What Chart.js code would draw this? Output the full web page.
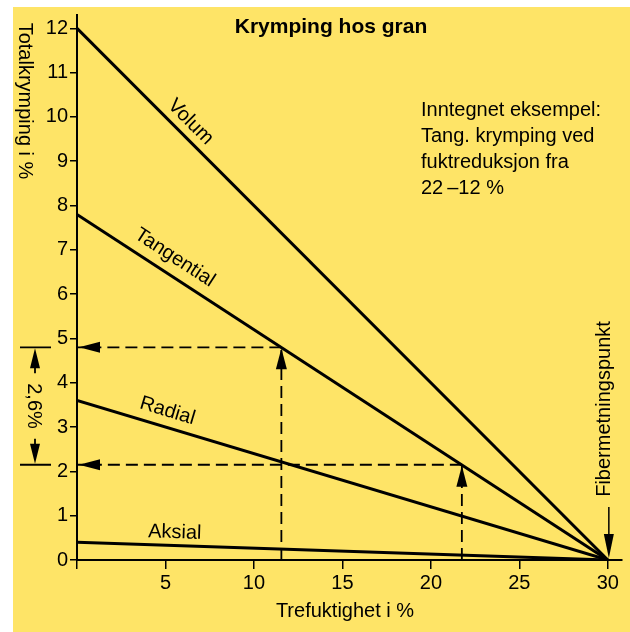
<!DOCTYPE html>
<html>
<head>
<meta charset="utf-8">
<script src="https://cdn.jsdelivr.net/npm/chart.js@4.4.0/dist/chart.umd.min.js"></script>
<style>
html, body { margin: 0; padding: 0; background: #fff; }
</style>
</head>
<body>
<canvas id="chart" width="630" height="632"></canvas>
<script>
// Trefuktighet i % (x) og totalkrymping i % (y)
const moisture = [0, 30];
const volum = [12, 0];
const tangential = [7.8, 0];
const radial = [3.6, 0];
const aksial = [0.4, 0];
const xTicks = [0, 5, 10, 15, 20, 25, 30];
const yTicks = [0, 1, 2, 3, 4, 5, 6, 7, 8, 9, 10, 11, 12];
// inntegnet eksempel: fukt 22 -> 12 %
const exMoisture = [11.55, 21.75];
const exShrink = [4.8, 2.15];

const FONT = "'Liberation Sans', Arial, sans-serif";
const YELLOW = '#fee467';

function pts(ys) {
	return moisture.map(function(x, i) { return { x: x, y: ys[i] }; });
}

function mainLine(label, ys) {
	return { label: label, data: pts(ys), borderColor: '#000', borderWidth: 3, pointRadius: 0, fill: false };
}

function dashLine(data) {
	return { data: data, borderColor: '#000', borderWidth: 1.8, borderDash: [12, 6], pointRadius: 0, fill: false };
}

function arrowHead(ctx, x, y, ang, len, half) {
	ctx.save();
	ctx.translate(x, y);
	ctx.rotate(ang);
	ctx.beginPath();
	ctx.moveTo(0, 0);
	ctx.lineTo(-len, -half);
	ctx.lineTo(-len, half);
	ctx.closePath();
	ctx.fillStyle = '#000';
	ctx.fill();
	ctx.restore();
}

function lineLabel(ctx, chart, text, ys, xv, off) {
	const sx = chart.scales.x, sy = chart.scales.y;
	const x0 = sx.getPixelForValue(moisture[0]), y0 = sy.getPixelForValue(ys[0]);
	const x1 = sx.getPixelForValue(moisture[1]), y1 = sy.getPixelForValue(ys[1]);
	const ang = Math.atan2(y1 - y0, x1 - x0);
	const yv = ys[0] + (ys[1] - ys[0]) * (xv - moisture[0]) / (moisture[1] - moisture[0]);
	const px = sx.getPixelForValue(xv) + Math.sin(ang) * off;
	const py = sy.getPixelForValue(yv) - Math.cos(ang) * off;
	ctx.save();
	ctx.translate(px, py);
	ctx.rotate(ang);
	ctx.textAlign = 'center';
	ctx.textBaseline = 'middle';
	ctx.fillText(text, 0, 0);
	ctx.restore();
}

const decor = {
	id: 'decor',
	beforeDraw: function(chart) {
		const ctx = chart.ctx;
		ctx.save();
		ctx.fillStyle = YELLOW;
		ctx.fillRect(13, 7, chart.width - 13, chart.height - 7);
		ctx.restore();
	},
	afterDraw: function(chart) {
		const ctx = chart.ctx;
		const sx = chart.scales.x, sy = chart.scales.y;
		ctx.save();
		ctx.fillStyle = '#000';
		ctx.strokeStyle = '#000';

		// tittel
		ctx.font = 'bold 21px ' + FONT;
		ctx.textAlign = 'center';
		ctx.textBaseline = 'alphabetic';
		ctx.fillText('Krymping hos gran', 331, 33);

		// eksempeltekst
		ctx.font = '20px ' + FONT;
		ctx.textAlign = 'left';
		const note = ['Inntegnet eksempel:', 'Tang. krymping ved', 'fuktreduksjon fra', '22\u2009\u201312 %'];
		note.forEach(function(t, i) { ctx.fillText(t, 421, 116 + i * 26); });

		// aksetitler
		ctx.textAlign = 'center';
		ctx.fillText('Trefuktighet i %', 345, 617);
		ctx.save();
		ctx.translate(25, 101);
		ctx.rotate(Math.PI / 2);
		ctx.textBaseline = 'middle';
		ctx.fillText('Totalkrymping i %', 0, 0);
		ctx.restore();

		// Fibermetningspunkt
		const fx = sx.getPixelForValue(30);
		const fy = sy.getPixelForValue(0);
		ctx.save();
		ctx.translate(fx - 3, 409);
		ctx.rotate(-Math.PI / 2);
		ctx.textBaseline = 'middle';
		ctx.fillText('Fibermetningspunkt', 0, 0);
		ctx.restore();
		ctx.lineWidth = 1.5;
		ctx.beginPath();
		ctx.moveTo(fx + 1, 507);
		ctx.lineTo(fx + 1, fy - 20);
		ctx.stroke();
		arrowHead(ctx, fx + 1, fy - 2, Math.PI / 2, 24, 5);

		// linjenavn
		ctx.font = '20px ' + FONT;
		lineLabel(ctx, chart, 'Volum', volum, 5.85, 14);
		lineLabel(ctx, chart, 'Tangential', tangential, 5.0, 17);
		lineLabel(ctx, chart, 'Radial', radial, 4.85, 16);
		lineLabel(ctx, chart, 'Aksial', aksial, 5.5, 13);

		// piler i eksempelet
		const left = sx.getPixelForValue(0);
		exMoisture.forEach(function(m, i) {
			const px = sx.getPixelForValue(m);
			const py = sy.getPixelForValue(exShrink[i]);
			arrowHead(ctx, px, py + 1, -Math.PI / 2, 21, 5.5);
			arrowHead(ctx, left + 2, py, Math.PI, 21, 5.5);
		});

		// 2,6 % mål
		const yA = sy.getPixelForValue(exShrink[0]);
		const yB = sy.getPixelForValue(exShrink[1]);
		const dx = 35;
		ctx.lineWidth = 1.8;
		ctx.beginPath();
		ctx.moveTo(20, yA); ctx.lineTo(51, yA);
		ctx.moveTo(20, yB); ctx.lineTo(51, yB);
		ctx.moveTo(dx, yA + 15); ctx.lineTo(dx, yA + 26);
		ctx.moveTo(dx, yB - 15); ctx.lineTo(dx, yB - 26);
		ctx.stroke();
		arrowHead(ctx, dx, yA + 1, -Math.PI / 2, 20, 5);
		arrowHead(ctx, dx, yB - 1, Math.PI / 2, 20, 5);
		ctx.save();
		ctx.translate(dx - 1, (yA + yB) / 2);
		ctx.rotate(Math.PI / 2);
		ctx.textAlign = 'center';
		ctx.textBaseline = 'middle';
		ctx.font = '20px ' + FONT;
		ctx.fillText('2,6%', 0, 0);
		ctx.restore();

		ctx.restore();
	}
};

const ctx = document.getElementById('chart');
const chart = new Chart(ctx, {
	type: 'line',
	data: {
		datasets: [
			mainLine('Volum', volum),
			mainLine('Tangential', tangential),
			mainLine('Radial', radial),
			mainLine('Aksial', aksial),
			dashLine([{ x: exMoisture[0], y: 0 }, { x: exMoisture[0], y: exShrink[0] }]),
			dashLine([{ x: exMoisture[0], y: exShrink[0] }, { x: 0, y: exShrink[0] }]),
			dashLine([{ x: exMoisture[1], y: 0 }, { x: exMoisture[1], y: exShrink[1] }]),
			dashLine([{ x: exMoisture[1], y: exShrink[1] }, { x: 0, y: exShrink[1] }])
		]
	},
	options: {
		responsive: false,
		animation: false,
		layout: { padding: { left: 13, top: 15, right: 8, bottom: 0 } },
		plugins: { legend: { display: false }, tooltip: { enabled: false } },
		scales: {
			x: {
				type: 'linear',
				min: 0,
				max: 30.8,
				afterBuildTicks: function(s) { s.ticks = xTicks.map(function(v) { return { value: v }; }); },
				afterFit: function(s) { s.height = 72; },
				grid: { drawOnChartArea: false, drawTicks: true, tickLength: 9, color: '#000', lineWidth: 1.5 },
				border: { display: true, color: '#000', width: 2 },
				ticks: {
					color: '#000',
					padding: 2,
					maxRotation: 0,
					font: { family: FONT, size: 20 },
					callback: function(v) { return v === 0 ? '' : v; }
				}
			},
			y: {
				min: 0,
				max: 12.3,
				afterBuildTicks: function(s) { s.ticks = yTicks.map(function(v) { return { value: v }; }); },
				afterFit: function(s) { s.width = 64; },
				grid: { drawOnChartArea: false, drawTicks: true, tickLength: 7, color: '#000', lineWidth: 1.5 },
				border: { display: true, color: '#000', width: 2 },
				ticks: {
					color: '#000',
					padding: 2,
					font: { family: FONT, size: 20 },
					callback: function(v) { return v; }
				}
			}
		}
	},
	plugins: [decor]
});
</script>
</body>
</html>
